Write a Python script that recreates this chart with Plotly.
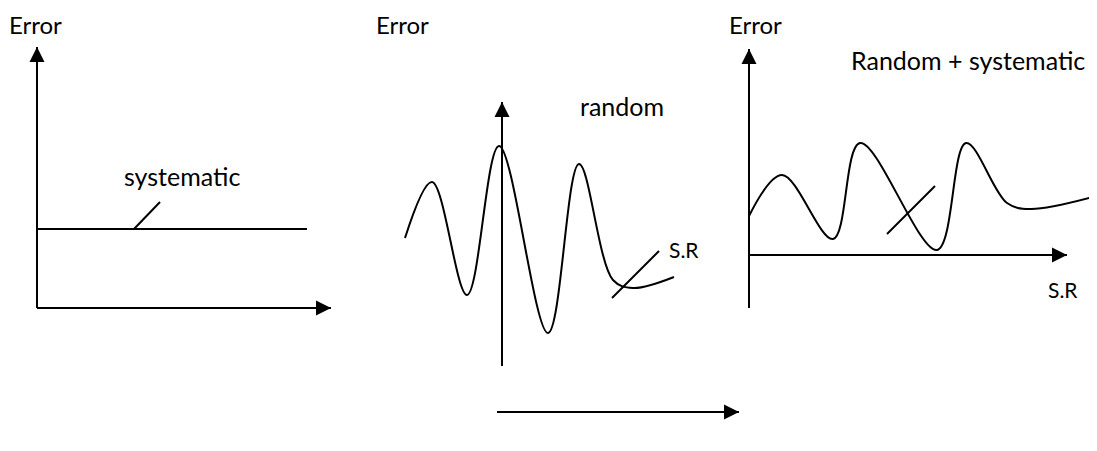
import plotly.graph_objects as go

W, H = 1097, 451
PAD = 8  # default body margin of the html page
FONT = "Lato"

# panel 1 - systematic error (pixel space of the sketch)
p1_yaxis_x = [37, 37]
p1_yaxis_y = [308, 47]
p1_xaxis_x = [37, 331]
p1_xaxis_y = [308, 308]
sys_x = [37, 307]
sys_y = [229, 229]
sys_lead_x = [134, 160]
sys_lead_y = [229, 202]

# panel 2 - random error
p2_yaxis_x = [502, 502]
p2_yaxis_y = [366, 102]
rnd_x = [405, 432, 467, 499, 548, 579, 613, 633, 674]
rnd_y = [238, 182, 295, 146, 333, 164, 280, 288, 277]
rnd_lead_x = [612, 659]
rnd_lead_y = [298, 251]
p2_arrow_x = [497, 739]
p2_arrow_y = [412, 412]

# panel 3 - random + systematic
p3_yaxis_x = [749, 749]
p3_yaxis_y = [308, 49]
p3_xaxis_x = [749, 1067]
p3_xaxis_y = [255, 255]
mix_x = [749, 782, 833, 860, 937, 966, 1007, 1030, 1093]
mix_y = [216, 175, 239, 143, 250, 143, 203, 209, 197]
mix_lead_x = [887, 935]
mix_lead_y = [234, 186]

labels = ["Error", "Error", "Error", "systematic", "random", "S.R",
          "Random + systematic", "S.R"]
label_x = [35, 402, 755, 182, 622, 684, 968, 1063]
label_y = [24, 24, 24, 176, 106, 249, 60, 289]
label_size = [24, 24, 24, 25, 25, 21, 25, 21]

fig = go.Figure()

def line(x, y, shape="linear"):
    fig.add_trace(go.Scatter(x=x, y=y, mode="lines", line=dict(color="black", width=2, shape=shape, smoothing=1.0),
                             hoverinfo="skip", showlegend=False))

def arrow(x, y, symbol):
    line(x, y)
    fig.add_trace(go.Scatter(x=[x[-1]], y=[y[-1]], mode="markers",
                             marker=dict(symbol=symbol, size=15, color="black", line=dict(width=0)),
                             hoverinfo="skip", showlegend=False))

arrow(p1_yaxis_x, p1_yaxis_y, "arrow-up")
arrow(p1_xaxis_x, p1_xaxis_y, "arrow-right")
line(sys_x, sys_y)
line(sys_lead_x, sys_lead_y)

arrow(p2_yaxis_x, p2_yaxis_y, "arrow-up")
line(rnd_x, rnd_y, "spline")
line(rnd_lead_x, rnd_lead_y)
arrow(p2_arrow_x, p2_arrow_y, "arrow-right")

arrow(p3_yaxis_x, p3_yaxis_y, "arrow-up")
arrow(p3_xaxis_x, p3_xaxis_y, "arrow-right")
line(mix_x, mix_y, "spline")
line(mix_lead_x, mix_lead_y)

for t, x, y, s in zip(labels, label_x, label_y, label_size):
    fig.add_annotation(x=x, y=y, text=t, showarrow=False, xanchor="center", yanchor="middle",
                       borderpad=0, font=dict(family=FONT, size=s, color="black"))

fig.update_layout(width=W - PAD, height=H - PAD, margin=dict(l=0, r=0, t=0, b=0),
                  paper_bgcolor="white", plot_bgcolor="white",
                  xaxis=dict(range=[PAD, W], visible=False, fixedrange=True),
                  yaxis=dict(range=[H, PAD], visible=False, fixedrange=True))

fig.write_html("out.html")
